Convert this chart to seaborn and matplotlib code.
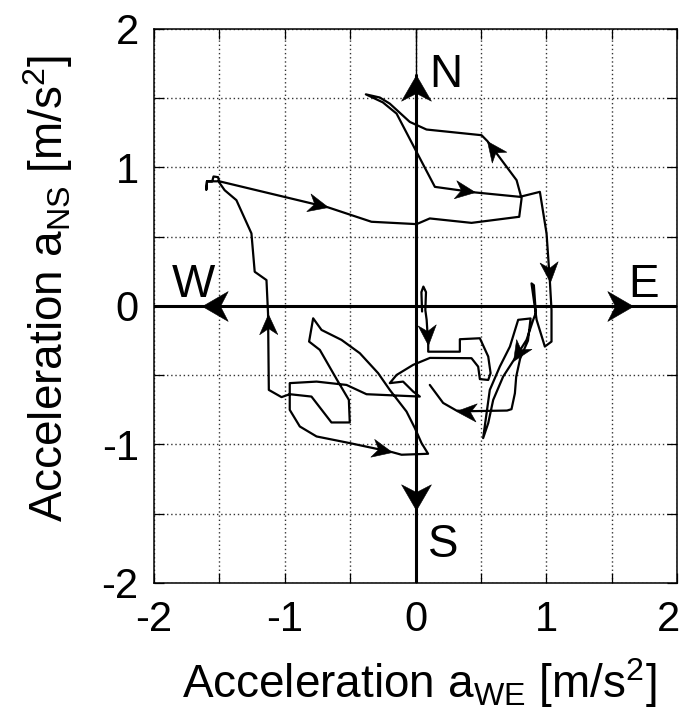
import numpy as np
import pandas as pd
import matplotlib
matplotlib.use("Agg")
import matplotlib.pyplot as plt
import seaborn as sns
from matplotlib.path import Path
from matplotlib.markers import MarkerStyle
from matplotlib.transforms import Affine2D, ScaledTranslation

# Horizontal acceleration trajectory (west-east, north-south components), in m/s^2
a_we = [0.05, 0.045, 0.06, 0.08, 0.075, 0.085, 0.097, 0.097, 0.339, 0.339,
        0.492, 0.556, 0.574, 0.556, 0.492, 0.479, 0.428, 0.11, -0.018, -0.145,
        -0.197, -0.095, -0.018, 0.033, -0.375, -0.528, -0.757, -0.962, -0.962, -0.885,
        -0.757, -0.503, -0.18, -0.107, 0.096, 0.046, -0.005, -0.069, -0.197, -0.286,
        -0.426, -0.566, -0.719, -0.783, -0.814, -0.732, -0.60, -0.51, -0.503, -0.643,
        -0.796, -0.962, -1.025, -1.122, -1.128, -1.14, -1.23, -1.255, -1.37, -1.46,
        -1.50, -1.51, -1.545, -1.555, -1.595, -1.60, -1.595, -1.50, -0.669, -0.337,
        0.008, 0.109, 0.428, 0.793, 0.811, 0.773, 0.55, 0.505, 0.084, -0.044,
        -0.197, -0.273, -0.38, -0.25, -0.145, 0.008, 0.148, 0.454, 0.798, 0.951,
        1.002, 1.028, 1.04, 1.04, 0.989, 0.926, 0.887, 0.905, 0.92, 0.90,
        0.849, 0.745, 0.67, 0.594, 0.556, 0.517, 0.568, 0.645, 0.722, 0.785,
        0.88, 0.86, 0.80, 0.77, 0.76, 0.734, 0.70, 0.39, 0.313, 0.211,
        0.109]
a_ns = [-0.04, 0.10, 0.14, 0.10, -0.03, -0.10, -0.28, -0.33, -0.33, -0.24,
        -0.233, -0.365, -0.485, -0.534, -0.528, -0.438, -0.377, -0.375, -0.425, -0.498,
        -0.557, -0.546, -0.618, -0.654, -0.637, -0.57, -0.546, -0.557, -0.75, -0.87,
        -0.942, -0.99, -1.055, -1.074, -1.067, -0.99, -0.882, -0.762, -0.606, -0.485,
        -0.341, -0.245, -0.173, -0.089, -0.257, -0.317, -0.534, -0.678, -0.841, -0.841,
        -0.654, -0.637, -0.658, -0.606, -0.055, 0.187, 0.247, 0.524, 0.764, 0.836,
        0.89, 0.93, 0.935, 0.90, 0.90, 0.84, 0.90, 0.90, 0.712, 0.608,
        0.591, 0.632, 0.60, 0.644, 0.776, 0.908, 1.19, 1.233, 1.274, 1.329,
        1.461, 1.505, 1.528, 1.47, 1.389, 1.112, 0.86, 0.82, 0.788, 0.824,
        0.524, 0.17, -0.03, -0.257, -0.293, -0.10, 0.163, 0.15, -0.05, -0.10,
        -0.245, -0.40, -0.51, -0.678, -0.846, -0.954, -0.606, -0.437, -0.293, -0.10,
        -0.09, -0.25, -0.38, -0.51, -0.63, -0.745, -0.755, -0.76, -0.755, -0.70,
        -0.57]

# Path vertices that carry a direction arrowhead
arrow_idx = [6, 32, 54, 68, 76, 87, 91, 101, 118]

# Compass directions: arrow tip positions and letter positions
compass_labels = ["N", "S", "E", "W"]
compass_tip_x = [0.0, 0.0, 1.66, -1.63]
compass_tip_y = [1.67, -1.47, 0.0, 0.0]
compass_text_x = [0.105, 0.095, 1.625, -1.865]
compass_text_y = [1.58, -1.81, 0.065, 0.065]

tick_values = [-2, -1, 0, 1, 2]
half_steps = np.arange(-2.0, 2.01, 0.5)

sns.set_theme(style="white")
plt.rcParams["font.family"] = ["Liberation Sans", "DejaVu Sans"]
plt.rcParams["mathtext.fontset"] = "custom"
plt.rcParams["mathtext.rm"] = "Liberation Sans"

fig = plt.figure(figsize=(6.87, 7.17), dpi=100)
fig.patch.set_facecolor("white")
ax = fig.add_axes([0.2242, 0.1869, 0.7613, 0.7727])
ax.set_xlim(-2, 2)
ax.set_ylim(-2, 2)

ax.set_xticks(tick_values)
ax.set_yticks(tick_values)
ax.set_xticks(half_steps, minor=True)
ax.set_yticks(half_steps, minor=True)
ax.set_xticklabels([str(v) for v in tick_values])
ax.set_yticklabels([str(v) for v in tick_values])
ax.grid(True, which="both", linestyle=(0, (1, 2)), color="0.2", linewidth=1.0)
ax.set_axisbelow(True)
ax.tick_params(which="both", direction="in", length=7, width=0.9, color="black",
               top=True, right=True, bottom=True, left=True)
ax.tick_params(axis="x", which="major", labelsize=30, pad=12, labelcolor="black")
ax.tick_params(axis="y", which="major", labelsize=30, pad=11, labelcolor="black")
for s in ax.spines.values():
    s.set_color("black")
    s.set_linewidth(1.1)

# Trajectory
df = pd.DataFrame({"a_we": a_we, "a_ns": a_ns})
sns.lineplot(data=df, x="a_we", y="a_ns", sort=False, estimator=None,
             color="black", linewidth=1.6, ax=ax, zorder=3)
ax.set_xlabel("")
ax.set_ylabel("")


def head(angle, half_width, notch):
    verts = [(0, 0), (-1, half_width), (-notch, 0), (-1, -half_width), (0, 0)]
    codes = [Path.MOVETO, Path.LINETO, Path.LINETO, Path.LINETO, Path.CLOSEPOLY]
    return MarkerStyle(Path(verts, codes), transform=Affine2D().rotate_deg(angle))


def display_angle(x0, y0, x1, y1):
    p0 = ax.transData.transform((x0, y0))
    p1 = ax.transData.transform((x1, y1))
    return np.degrees(np.arctan2(p1[1] - p0[1], p1[0] - p0[0]))


for i in arrow_idx:
    ang = display_angle(a_we[i - 1], a_ns[i - 1], a_we[i], a_ns[i])
    ax.plot([a_we[i]], [a_ns[i]], linestyle="none",
            marker=head(ang, 0.45, 0.7), markersize=29,
            color="black", markeredgewidth=0.4, zorder=4)

# Compass axes
ax.plot([-2, 2], [0, 0], color="black", linewidth=2.2, zorder=5)
ax.plot([0, 0], [-2, compass_tip_y[0]], color="black", linewidth=2.2, zorder=5)
ax.plot([0, 0], [compass_tip_y[0], 2], color="black", linewidth=1.0, zorder=5)
for lab, tx, ty, lx, ly in zip(compass_labels, compass_tip_x, compass_tip_y,
                               compass_text_x, compass_text_y):
    ang = np.degrees(np.arctan2(ty, tx))
    ax.plot([tx], [ty], linestyle="none", marker=head(ang, 0.58, 0.7),
            markersize=37, color="black", markeredgewidth=0.4, zorder=6)
    ax.text(lx, ly, lab, fontsize=33, ha="left", va="baseline", color="black",
            zorder=6)

fig.text(419 / 687, 1 - 698 / 717,
         r"Acceleration a$_\mathregular{WE}$ [m/s$^\mathregular{2}$]",
         fontsize=33, ha="center", va="baseline", color="black")
fig.text(63 / 687, 1 - 288 / 717,
         r"Acceleration a$_\mathregular{NS}$ [m/s$^\mathregular{2}$]",
         fontsize=33, ha="center", va="baseline", rotation=90,
         rotation_mode="anchor", color="black")

# keep the right-most tick label inside the figure
fig.canvas.draw()
last = ax.xaxis.get_major_ticks()[-1].label1
last.set_transform(last.get_transform()
                   + ScaledTranslation(-6 / 72, 0, fig.dpi_scale_trans))

fig.savefig("out.png", dpi=100, facecolor="white")
